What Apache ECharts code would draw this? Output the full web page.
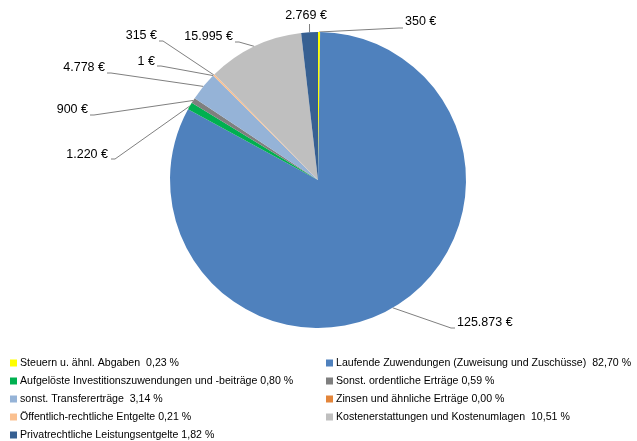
<!DOCTYPE html>
<html><head><meta charset="utf-8">
<script src="https://cdn.jsdelivr.net/npm/echarts@6/dist/echarts.min.js"></script>
<style>html,body{margin:0;padding:0;background:#fff}#c{width:637px;height:441px}</style>
</head><body><div id="c"></div>
<script>
const categories = [
  'Steuern u. ähnl. Abgaben',
  'Laufende Zuwendungen (Zuweisung und Zuschüsse)',
  'Aufgelöste Investitionszuwendungen und -beiträge',
  'Sonst. ordentliche Erträge',
  'sonst. Transfererträge',
  'Zinsen und ähnliche Erträge',
  'Öffentlich-rechtliche Entgelte',
  'Kostenerstattungen und Kostenumlagen',
  'Privatrechtliche Leistungsentgelte'
];
const values = [350, 125873, 1220, 900, 4778, 1, 315, 15995, 2769];
const legendLabels = [
  'Steuern u. ähnl. Abgaben  0,23 %',
  'Laufende Zuwendungen (Zuweisung und Zuschüsse)  82,70 %',
  'Aufgelöste Investitionszuwendungen und -beiträge 0,80 %',
  'Sonst. ordentliche Erträge 0,59 %',
  'sonst. Transfererträge  3,14 %',
  'Zinsen und ähnliche Erträge 0,00 %',
  'Öffentlich-rechtliche Entgelte 0,21 %',
  'Kostenerstattungen und Kostenumlagen  10,51 %',
  'Privatrechtliche Leistungsentgelte 1,82 %'
];
const colors = ['#FFFF00', '#4F81BD', '#00B050', '#7F7F7F', '#95B3D7', '#E3853A', '#FAC090', '#BFBFBF', '#376092'];
// label placement (style): [textX, textY, align, lineEndX, lineEndY]
const labelAnchors = [
  [405, 22, 'left', 403, 28],
  [457, 323, 'left', 455, 328],
  [108, 155, 'right', 111, 159],
  [88, 110, 'right', 90, 115],
  [105, 68, 'right', 107, 73],
  [155, 62, 'right', 157, 66],
  [157, 36, 'right', 159, 41],
  [233, 37, 'right', 235, 42],
  [306, 16, 'center', 309.5, 24]
];
const FONT = "'Liberation Sans', Arial, sans-serif";

function fmtEuro(v) {
  return String(v).replace(/\B(?=(\d{3})+(?!\d))/g, '.') + ' €';
}

const chart = echarts.init(document.getElementById('c'), null, {renderer: 'canvas'});
const legendBase = {
  orient: 'vertical', top: 357, padding: 0, itemGap: 6,
  itemWidth: 7, itemHeight: 7, icon: 'rect', selectedMode: false,
  textStyle: {fontFamily: FONT, fontSize: 10.6, lineHeight: 12, color: '#000', padding: [0, 0, 0, -2]},
  formatter: name => legendLabels[categories.indexOf(name)]
};
chart.setOption({
  animation: false,
  backgroundColor: '#fff',
  color: colors,
  legend: [
    Object.assign({}, legendBase, {left: 10, data: categories.filter((c, i) => i % 2 === 0)}),
    Object.assign({}, legendBase, {left: 326, data: categories.filter((c, i) => i % 2 === 1)})
  ],
  series: [{
    type: 'pie',
    center: [318, 180],
    radius: 148,
    startAngle: 90,
    clockwise: true,
    avoidLabelOverlap: false,
    minAngle: 0,
    itemStyle: {borderWidth: 0},
    label: {
      show: true, position: 'outside', fontFamily: FONT, fontSize: 12.5, color: '#000',
      formatter: p => fmtEuro(p.value)
    },
    labelLine: {show: true, length: 10, length2: 10, lineStyle: {color: '#808080', width: 1}},
    labelLayout: function (p) {
      const a = labelAnchors[p.dataIndex];
      const pts = p.labelLinePoints;
      const edge = pts ? pts[0] : [a[3], a[4]];
      let line;
      if (a[2] === 'center') {
        line = [edge, [a[3], a[4]]];
      } else {
        const d = a[2] === 'left' ? -4 : 4;
        line = [edge, [a[3] + d, a[4]], [a[3], a[4]]];
      }
      return {x: a[0], y: a[1], align: a[2], verticalAlign: 'middle', labelLinePoints: line};
    },
    data: categories.map((c, i) => ({name: c, value: values[i]}))
  }]
});
</script>
</body></html>
